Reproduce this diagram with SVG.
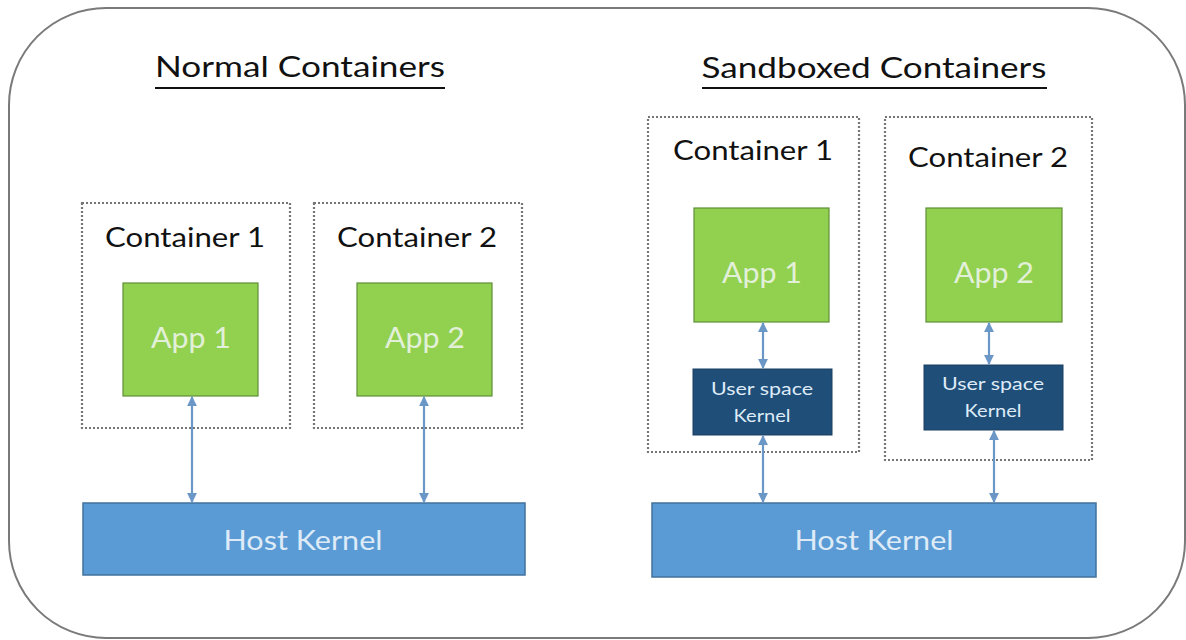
<svg xmlns="http://www.w3.org/2000/svg" width="1186" height="640" viewBox="0 0 1186 640">
  <style>
    text { font-family: Lato, "Open Sans", "Liberation Sans", sans-serif; text-anchor: middle; }
    .frame { fill: #ffffff; stroke: #7a7a7a; stroke-width: 2; }
    .title { font-size: 29px; fill: #111111; }
    .uline { stroke: #111111; stroke-width: 2.2; }
    .box { fill: #ffffff; stroke: #767676; stroke-width: 2.2; stroke-dasharray: 2 2; }
    .clabel { font-size: 27px; fill: #111111; }
    .app { fill: #92d050; stroke: #5f8f38; stroke-width: 1.2; }
    .applabel { font-size: 28px; fill: #e2f0d9; }
    .usk { fill: #1f4e79; stroke: #1a3f61; stroke-width: 1; }
    .usklabel { font-size: 17px; fill: #deebf7; }
    .host { fill: #5b9bd5; stroke: #41719c; stroke-width: 1.5; }
    .hostlabel { font-size: 27px; fill: #deebf7; }
    .link { stroke: #6a97c6; stroke-width: 2.2; fill: none; marker-start: url(#head); marker-end: url(#head); }
  </style>
  <defs>
    <marker id="head" viewBox="0 0 10 10" refX="9" refY="5" markerWidth="4.5" markerHeight="4.5" orient="auto-start-reverse" markerUnits="strokeWidth">
      <path d="M0,0 L10,5 L0,10 z" fill="#6a97c6"/>
    </marker>
  </defs>

  <!-- outer frame -->
  <rect class="frame" x="9" y="8" width="1176" height="630" rx="97" ry="97"/>

  <!-- section titles -->
  <g id="title-normal">
    <text class="title" x="300" y="77" textLength="290" lengthAdjust="spacingAndGlyphs">Normal Containers</text>
    <line class="uline" x1="155" y1="88" x2="445" y2="88"/>
  </g>
  <g id="title-sandboxed">
    <text class="title" x="874" y="78" textLength="345" lengthAdjust="spacingAndGlyphs">Sandboxed Containers</text>
    <line class="uline" x1="702" y1="88" x2="1047" y2="88"/>
  </g>

  <!-- normal containers -->
  <g id="normal-container-1">
    <rect class="box" x="82" y="203" width="208" height="225"/>
    <text class="clabel" x="185" y="247" textLength="160" lengthAdjust="spacingAndGlyphs">Container 1</text>
  </g>
  <g id="normal-container-2">
    <rect class="box" x="314" y="203" width="208" height="225"/>
    <text class="clabel" x="417" y="247" textLength="160" lengthAdjust="spacingAndGlyphs">Container 2</text>
  </g>
  <g id="normal-app-1">
    <rect class="app" x="123" y="283" width="135" height="113"/>
    <text class="applabel" x="191" y="348" textLength="80" lengthAdjust="spacingAndGlyphs">App 1</text>
  </g>
  <g id="normal-app-2">
    <rect class="app" x="357" y="283" width="135" height="113"/>
    <text class="applabel" x="425" y="348" textLength="80" lengthAdjust="spacingAndGlyphs">App 2</text>
  </g>
  <g id="normal-host-kernel">
    <rect class="host" x="83" y="503" width="442" height="72"/>
    <text class="hostlabel" x="303" y="550" textLength="159" lengthAdjust="spacingAndGlyphs">Host Kernel</text>
  </g>

  <!-- sandboxed containers -->
  <g id="sandbox-container-1">
    <rect class="box" x="648" y="117" width="211" height="335"/>
    <text class="clabel" x="753" y="160" textLength="160" lengthAdjust="spacingAndGlyphs">Container 1</text>
  </g>
  <g id="sandbox-container-2">
    <rect class="box" x="885" y="117" width="207" height="343"/>
    <text class="clabel" x="988" y="167" textLength="160" lengthAdjust="spacingAndGlyphs">Container 2</text>
  </g>
  <g id="sandbox-app-1">
    <rect class="app" x="694" y="208" width="135" height="114"/>
    <text class="applabel" x="762" y="283" textLength="80" lengthAdjust="spacingAndGlyphs">App 1</text>
  </g>
  <g id="sandbox-app-2">
    <rect class="app" x="926" y="208" width="136" height="114"/>
    <text class="applabel" x="994" y="283" textLength="80" lengthAdjust="spacingAndGlyphs">App 2</text>
  </g>
  <g id="sandbox-usk-1">
    <rect class="usk" x="693" y="369" width="139" height="66"/>
    <text class="usklabel" x="762" y="395" textLength="102" lengthAdjust="spacingAndGlyphs">User space</text>
    <text class="usklabel" x="762" y="422" textLength="57" lengthAdjust="spacingAndGlyphs">Kernel</text>
  </g>
  <g id="sandbox-usk-2">
    <rect class="usk" x="924" y="365" width="139" height="65"/>
    <text class="usklabel" x="993" y="390" textLength="102" lengthAdjust="spacingAndGlyphs">User space</text>
    <text class="usklabel" x="993" y="417" textLength="57" lengthAdjust="spacingAndGlyphs">Kernel</text>
  </g>
  <g id="sandbox-host-kernel">
    <rect class="host" x="652" y="503" width="444" height="74"/>
    <text class="hostlabel" x="874" y="550" textLength="159" lengthAdjust="spacingAndGlyphs">Host Kernel</text>
  </g>

  <!-- connectors -->
  <g id="connectors">
    <line class="link" x1="192" y1="397" x2="192" y2="502"/>
    <line class="link" x1="424" y1="397" x2="424" y2="502"/>
    <line class="link" x1="763" y1="323" x2="763" y2="368"/>
    <line class="link" x1="763" y1="436" x2="763" y2="502"/>
    <line class="link" x1="989" y1="323" x2="989" y2="364"/>
    <line class="link" x1="994" y1="431" x2="994" y2="502"/>
  </g>
</svg>
